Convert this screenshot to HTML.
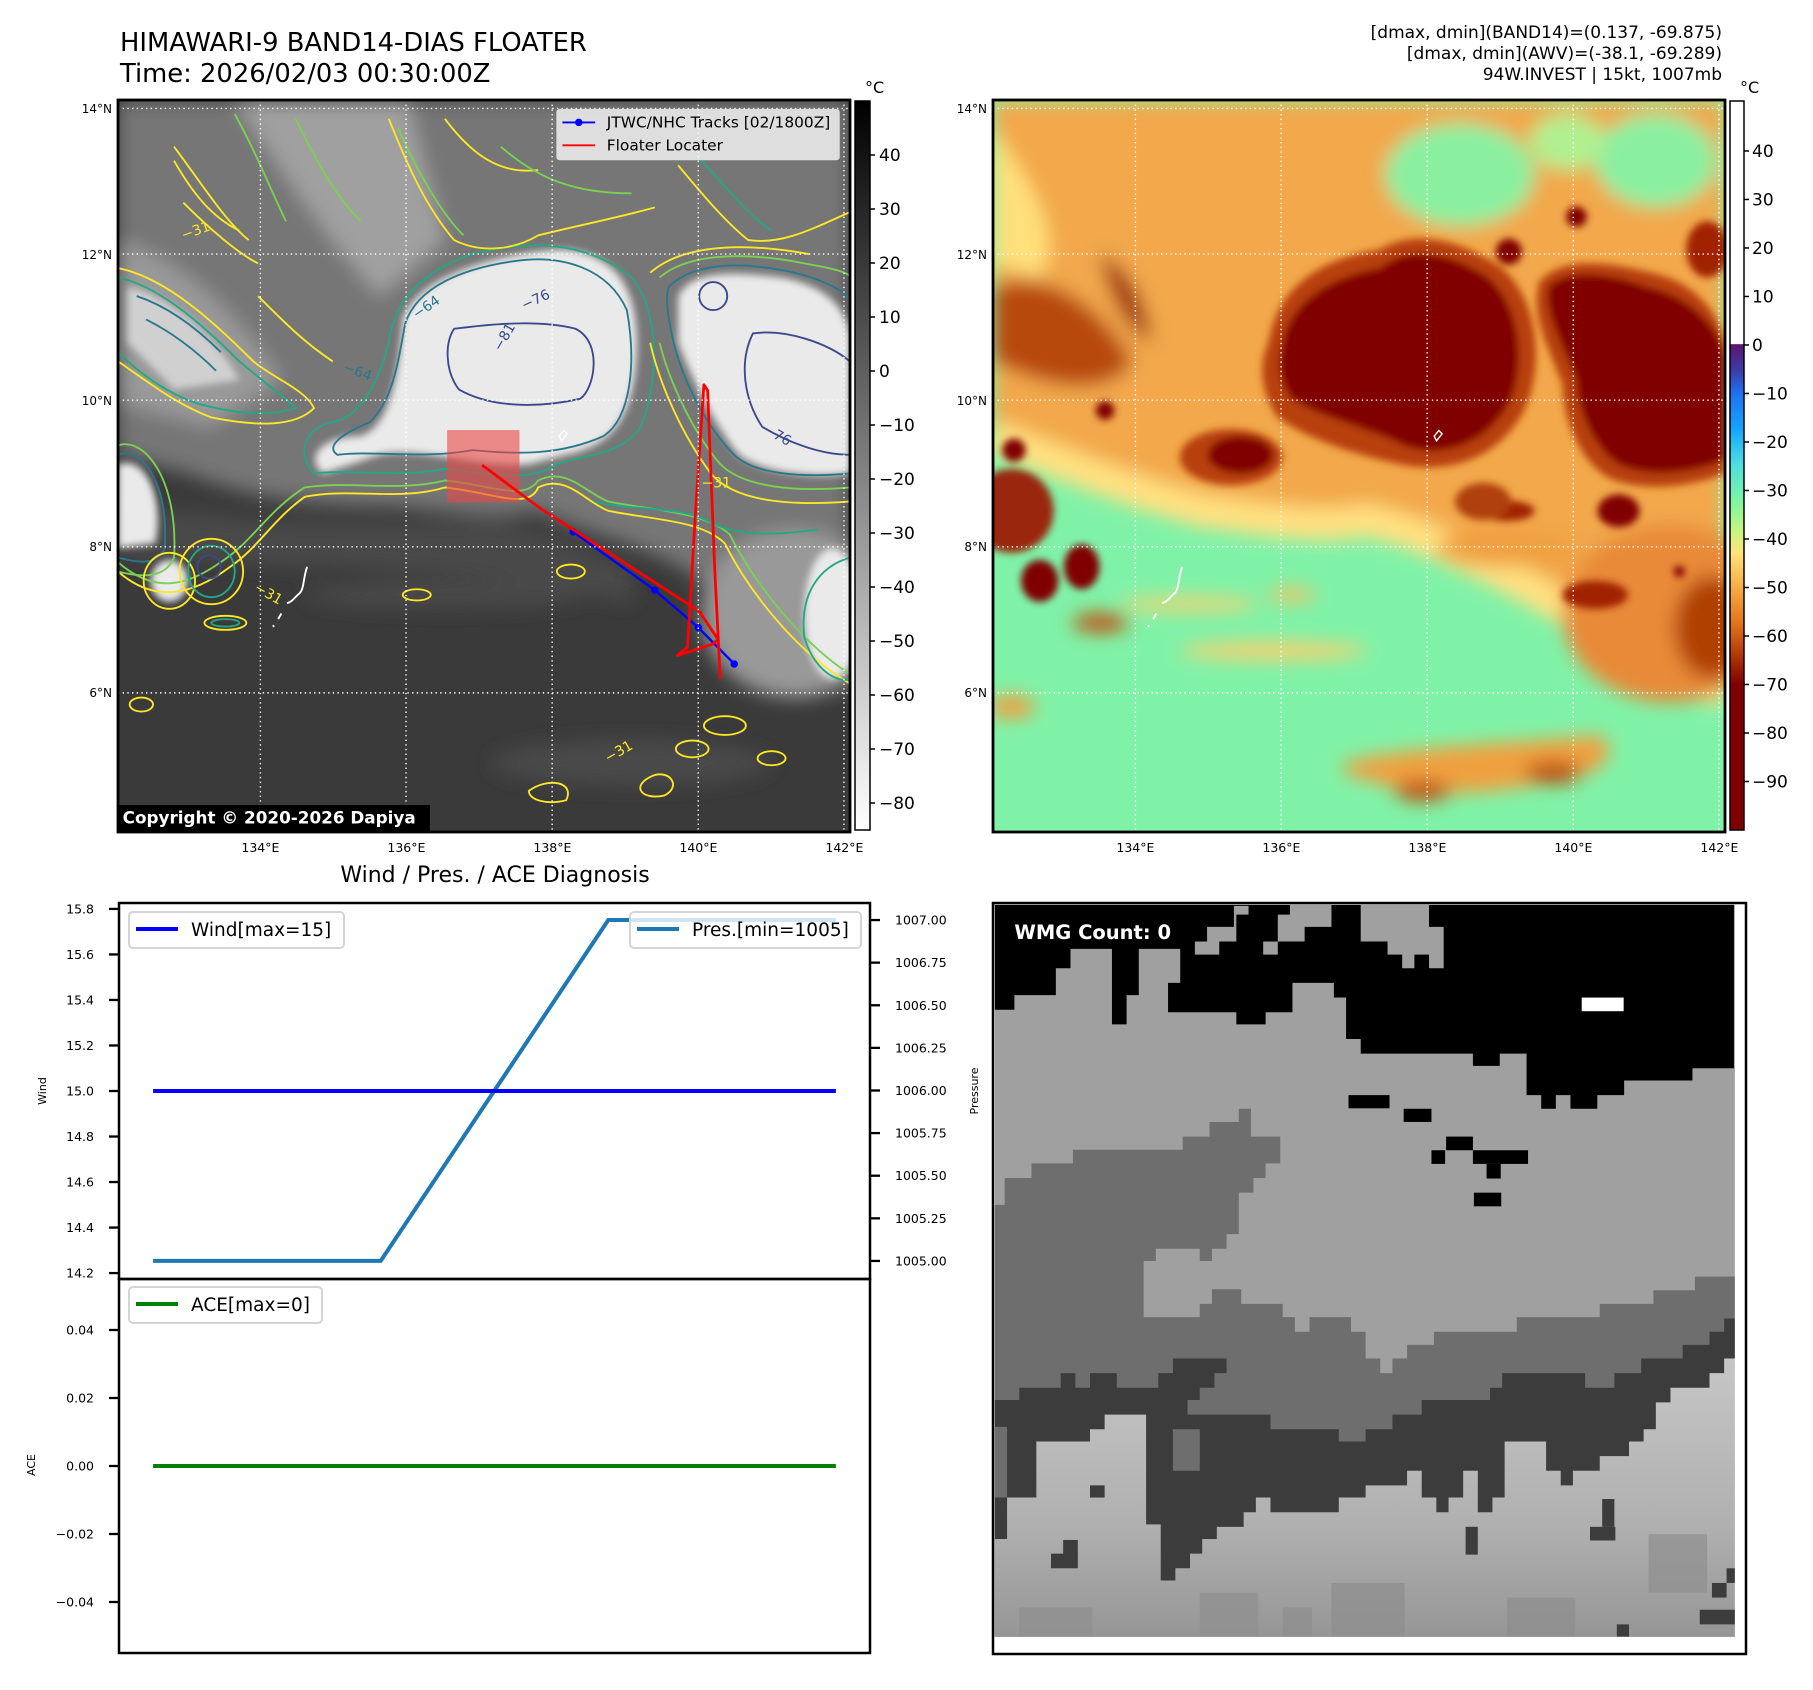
<!DOCTYPE html>
<html><head><meta charset="utf-8">
<style>
html,body{margin:0;padding:0;background:#fff;}
svg{display:block;font-family:"DejaVu Sans","Liberation Sans",sans-serif;}
</style></head>
<body>
<svg id="fig" xmlns="http://www.w3.org/2000/svg" width="1813" height="1690" viewBox="0 0 1813 1690">
<defs>
  <clipPath id="clipMap"><rect x="0" y="0" width="1568" height="1568"/></clipPath>
  <filter id="blur8" x="-20%" y="-20%" width="140%" height="140%"><feGaussianBlur stdDeviation="8"/></filter>
  <filter id="blur20" x="-30%" y="-30%" width="160%" height="160%"><feGaussianBlur stdDeviation="20"/></filter>
  <filter id="blur4"><feGaussianBlur stdDeviation="4"/></filter>
  <linearGradient id="cbGray" x1="0" y1="0" x2="0" y2="1">
    <stop offset="0" stop-color="#000"/><stop offset="1" stop-color="#fff"/>
  </linearGradient>
  <linearGradient id="cbColor" x1="0" y1="0" x2="0" y2="1">
    <stop offset="0" stop-color="#ffffff"/>
    <stop offset="0.333" stop-color="#ffffff"/>
    <stop offset="0.334" stop-color="#5b1670"/>
    <stop offset="0.37" stop-color="#3c3ca8"/>
    <stop offset="0.40" stop-color="#1f6ff0"/>
    <stop offset="0.45" stop-color="#12a6ff"/>
    <stop offset="0.50" stop-color="#4fe0e0"/>
    <stop offset="0.55" stop-color="#7ff5a0"/>
    <stop offset="0.59" stop-color="#c8f580"/>
    <stop offset="0.62" stop-color="#ffe47a"/>
    <stop offset="0.67" stop-color="#f8a840"/>
    <stop offset="0.72" stop-color="#e07018"/>
    <stop offset="0.76" stop-color="#b03806"/>
    <stop offset="0.80" stop-color="#800000"/>
    <stop offset="1" stop-color="#800000"/>
  </linearGradient>
  <linearGradient id="wmgBottom" x1="0" y1="0" x2="0" y2="1">
    <stop offset="0" stop-color="#c6c6c6"/><stop offset="0.6" stop-color="#b0b0b0"/><stop offset="1" stop-color="#969696"/>
  </linearGradient>
</defs>

<!-- Titles -->
<text x="120" y="51" font-size="25.8">HIMAWARI-9 BAND14-DIAS FLOATER</text>
<text x="120" y="82" font-size="25.8">Time: 2026/02/03 00:30:00Z</text>
<g font-size="17" text-anchor="end">
  <text x="1722" y="38">[dmax, dmin](BAND14)=(0.137, -69.875)</text>
  <text x="1722" y="59">[dmax, dmin](AWV)=(-38.1, -69.289)</text>
  <text x="1722" y="80">94W.INVEST | 15kt, 1007mb</text>
</g>

<!-- ===== MAP 1 (gray IR) ===== -->
<g transform="translate(118,100) scale(0.46684)">
 <g clip-path="url(#clipMap)">
  <rect width="1568" height="1568" fill="#3a3a3a"/>
  <g filter="url(#blur20)">
    <path d="M0,0 L1568,0 L1568,1260 C1450,1200 1320,1100 1220,1010 C1100,940 1000,930 900,880 C800,900 700,880 600,870 C450,870 300,860 150,800 L0,760 Z" fill="#767676"/>
    <path d="M0,300 C150,350 250,450 350,600 L200,700 L0,650 Z" fill="#999"/>
    <path d="M250,0 C350,150 450,300 560,420 L700,300 L620,0 Z" fill="#a0a0a0"/>
    <ellipse cx="1450" cy="1100" rx="200" ry="180" fill="#999"/>
    <path d="M0,860 C200,900 500,920 800,900 C900,920 1000,960 1100,1000 L1100,1080 C800,1000 400,1000 0,980Z" fill="#4a4a4a"/>
    <ellipse cx="1100" cy="1420" rx="300" ry="50" fill="#4a4a4a"/>
    <ellipse cx="700" cy="1060" rx="300" ry="30" fill="#4a4a4a"/>
  </g>
  <g filter="url(#blur8)" fill="#eaeaea">
    <path d="M610,470 C640,380 800,330 950,320 C1080,330 1120,420 1110,560 C1100,680 1060,740 960,760 L880,780 C780,790 640,740 560,760 L440,800 C400,770 430,720 520,720 C580,700 600,600 610,470Z"/>
    <path d="M1200,420 C1230,360 1330,370 1420,380 C1530,400 1568,460 1568,520 L1568,800 C1500,810 1380,800 1330,760 C1280,700 1230,600 1200,520Z"/>
    <path d="M0,780 C60,760 100,850 80,950 L0,960Z"/>
    <ellipse cx="110" cy="1030" rx="40" ry="45"/>
    <ellipse cx="1530" cy="1100" rx="60" ry="140"/>
    <path d="M20,400 C120,420 220,520 260,600 L120,620 L20,520Z" fill="#d0d0d0"/>
  </g>
  <!-- contours -->
  <g fill="none" stroke-width="4">
    <path d="M0,1010 C80,1080 160,1060 240,1000 C300,960 330,900 400,850 C500,830 600,860 700,830 C800,840 880,880 900,830 C960,800 1000,860 1050,880 C1150,900 1250,900 1300,950 C1350,1050 1450,1180 1568,1250" stroke="#fde725"/>
    <path d="M0,990 C80,1060 150,1040 220,990 C290,945 320,880 400,830 C500,815 600,840 700,815 C800,825 870,860 900,815 C960,785 1000,840 1050,860 C1150,880 1250,880 1310,930 C1360,1030 1460,1160 1568,1230" stroke="#7ad151"/>
    <path d="M420,800 C500,790 600,810 700,790 C800,800 880,820 940,780 C1000,760 1080,760 1120,700 C1160,600 1160,450 1100,380 C1000,300 880,300 760,330 C640,370 590,440 580,520 C560,600 520,680 460,690 C400,700 380,760 420,800Z" stroke="#22a884"/>
    <path d="M470,760 C550,750 650,770 760,750 C860,760 950,760 1040,720 C1100,680 1110,560 1090,450 C1050,360 950,330 850,345 C740,360 640,400 615,480 C600,560 590,640 540,690 C490,710 440,740 470,760Z" stroke="#2a788e"/>
    <path d="M720,490 C800,480 900,470 980,490 C1040,520 1020,620 990,640 C900,660 800,660 730,620 C700,580 700,520 720,490Z" stroke="#3b4a8b"/>
    <path d="M1360,500 C1430,490 1520,520 1568,560 L1568,760 C1500,760 1430,730 1380,700 C1340,640 1330,560 1360,500Z" stroke="#3b4a8b"/>
    <path d="M1180,400 C1240,340 1360,350 1450,370 C1530,390 1568,420 1568,430 M1568,800 C1460,810 1360,800 1320,760 C1260,700 1210,600 1190,520 C1180,470 1170,430 1180,400" stroke="#2a788e"/>
    <path d="M1160,380 C1230,320 1370,330 1470,350 C1530,360 1568,370 1568,380 M1568,830 C1450,840 1340,830 1290,780 C1230,710 1180,600 1160,520" stroke="#7ad151"/>
    <path d="M1140,370 C1220,300 1370,310 1480,330 M1568,860 C1440,870 1320,860 1270,800 C1210,720 1160,610 1140,520" stroke="#fde725"/>
    <ellipse cx="1275" cy="420" rx="30" ry="30" stroke="#3b4a8b"/>
    <path d="M0,360 C100,380 200,470 290,560 C340,600 400,620 420,660 C380,700 300,700 200,680 C120,650 60,600 0,560" stroke="#fde725"/>
    <path d="M0,380 C90,400 180,480 260,560 C320,610 360,640 380,660 C320,680 240,670 170,650 C110,630 50,590 0,540" stroke="#22a884"/>
    <path d="M0,760 C50,740 110,820 100,960 C80,1000 40,990 0,980" stroke="#2a788e"/>
    <path d="M0,740 C60,720 130,820 120,980 C100,1030 40,1020 0,1010" stroke="#7ad151"/>
    <ellipse cx="110" cy="1030" rx="55" ry="60" stroke="#fde725"/>
    <ellipse cx="200" cy="1010" rx="50" ry="55" stroke="#22a884"/>
    <ellipse cx="200" cy="1010" rx="68" ry="70" stroke="#fde725"/>
    <ellipse cx="195" cy="1000" rx="25" ry="25" stroke="#3b4a8b"/>
    <path d="M120,100 C180,180 230,260 280,300 M140,220 C200,280 260,330 300,350 M120,130 C160,200 200,250 260,280" stroke="#fde725"/>
    <path d="M250,30 C300,120 330,200 360,260 M380,40 C420,120 460,200 520,260" stroke="#7ad151"/>
    <path d="M580,40 C620,140 660,230 720,300 C780,330 850,320 900,290 C980,270 1080,250 1150,230 M700,40 C760,120 820,160 900,150" stroke="#fde725"/>
    <path d="M600,60 C640,150 690,240 740,290 M820,100 C900,170 980,200 1100,200" stroke="#7ad151"/>
    <path d="M1200,140 C1250,200 1300,260 1350,300 C1420,310 1480,280 1568,240" stroke="#fde725"/>
    <path d="M1240,120 C1300,180 1340,240 1400,280" stroke="#22a884"/>
    <path d="M40,420 C100,440 160,480 220,540 M60,470 C120,500 170,540 210,580" stroke="#2a788e"/>
    <path d="M300,420 C360,480 400,520 460,560" stroke="#fde725"/>
    <ellipse cx="1300" cy="1340" rx="45" ry="20" stroke="#fde725"/>
    <ellipse cx="1230" cy="1390" rx="35" ry="18" stroke="#fde725"/>
    <path d="M1140,1450 C1180,1430 1210,1470 1170,1490 C1120,1500 1100,1470 1140,1450Z" stroke="#fde725"/>
    <path d="M880,1480 C920,1450 980,1460 960,1500 C920,1510 880,1500 880,1480Z" stroke="#fde725"/>
    <ellipse cx="1400" cy="1410" rx="30" ry="15" stroke="#fde725"/>
    <ellipse cx="640" cy="1060" rx="30" ry="12" stroke="#fde725"/>
    <ellipse cx="230" cy="1120" rx="45" ry="15" stroke="#fde725"/>
    <ellipse cx="230" cy="1120" rx="30" ry="8" stroke="#22a884"/>
    <ellipse cx="50" cy="1295" rx="25" ry="15" stroke="#fde725"/>
    <ellipse cx="970" cy="1010" rx="30" ry="15" stroke="#fde725"/>
    <path d="M1020,860 C1100,880 1200,870 1260,900 C1330,940 1420,930 1500,920" stroke="#22a884"/>
    <path d="M1568,980 C1500,1000 1460,1060 1470,1150 C1490,1220 1540,1250 1568,1240" stroke="#22a884"/>
  </g>
  <!-- floater box & tracks -->
  <rect x="705" y="707" width="155" height="155" fill="rgba(235,70,70,0.6)"/>
  <path d="M975,925 L1150,1050 L1243,1130 L1320,1208" stroke="#0000ff" stroke-width="5" fill="none"/>
  <g fill="#0000ff"><circle cx="975" cy="925" r="8"/><circle cx="1150" cy="1050" r="8"/><circle cx="1243" cy="1130" r="8"/><circle cx="1320" cy="1208" r="8"/></g>
  <path d="M780,782 L905,875 L1245,1095 L1285,1155 L1275,1165 L1198,1190 L1220,1172 L1236,900 L1255,610 L1263,622 L1278,1000 L1290,1240" stroke="#ff0000" stroke-width="6" fill="none" stroke-linejoin="round"/>
  <!-- coastline -->
  <path d="M405,1000 C395,1030 400,1050 385,1060 C375,1070 372,1075 362,1078 M350,1100 L343,1112 M332,1125 l2,4" stroke="#fff" stroke-width="4" fill="none"/>
  <path d="M945,720 L955,708 L962,715 L950,730Z" stroke="#fff" stroke-width="3" fill="none"/>
  <!-- contour labels -->
  <g font-size="30" fill="#2a788e">
    <text x="640" y="470" transform="rotate(-35 640 470)">−64</text>
    <text x="870" y="450" fill="#3b4a8b" transform="rotate(-25 870 450)">−76</text>
    <text x="480" y="580" transform="rotate(20 480 580)">−64</text>
    <text x="820" y="540" fill="#3b4a8b" transform="rotate(-60 820 540)">−81</text>
    <text x="1380" y="710" fill="#3b4a8b" transform="rotate(30 1380 710)">−76</text>
    <text x="1250" y="830" fill="#fde725">−31</text>
    <text x="140" y="300" fill="#fde725" transform="rotate(-20 140 300)">−31</text>
    <text x="290" y="1050" fill="#fde725" transform="rotate(30 290 1050)">−31</text>
    <text x="1050" y="1420" fill="#fde725" transform="rotate(-30 1050 1420)">−31</text>
  </g>
  <!-- grid -->
  <g stroke="#fff" stroke-width="3" stroke-dasharray="3 7">
    <line x1="305" y1="0" x2="305" y2="1568"/><line x1="617" y1="0" x2="617" y2="1568"/><line x1="930" y1="0" x2="930" y2="1568"/><line x1="1243" y1="0" x2="1243" y2="1568"/><line x1="1555" y1="0" x2="1555" y2="1568"/>
    <line x1="0" y1="18" x2="1568" y2="18"/><line x1="0" y1="330" x2="1568" y2="330"/><line x1="0" y1="643" x2="1568" y2="643"/><line x1="0" y1="957" x2="1568" y2="957"/><line x1="0" y1="1270" x2="1568" y2="1270"/>
  </g>
  <!-- legend -->
  <g>
    <rect x="940" y="20" width="605" height="108" rx="6" fill="rgba(245,245,245,0.82)" stroke="#ddd" stroke-width="2"/>
    <line x1="952" y1="48" x2="1022" y2="48" stroke="#0000ff" stroke-width="4"/><circle cx="987" cy="48" r="8" fill="#0000ff"/>
    <line x1="952" y1="97" x2="1022" y2="97" stroke="#ff0000" stroke-width="4"/>
    <text x="1047" y="59" font-size="33">JTWC/NHC Tracks [02/1800Z]</text>
    <text x="1047" y="108" font-size="33">Floater Locater</text>
  </g>
  <rect x="0" y="1510" width="668" height="58" fill="#000"/>
  <text x="10" y="1550" font-size="36" font-weight="bold" fill="#fff">Copyright © 2020-2026 Dapiya</text>
 </g>
 <rect width="1568" height="1568" fill="none" stroke="#000" stroke-width="6"/>
</g>

<!-- colorbar 1 -->
<g>
  <rect x="855" y="101" width="15" height="729" fill="url(#cbGray)" stroke="#000" stroke-width="1.5"/>
  <text x="865" y="93" font-size="16">°C</text>
  <g id="cb1ticks" font-size="17"></g>
</g>

<!-- ===== MAP 2 (color) ===== -->
<g transform="translate(993,100) scale(0.46684)">
 <g clip-path="url(#clipMap)">
  <rect width="1568" height="1568" fill="#80f2a8"/>
  <g filter="url(#blur20)">
    <path d="M0,0 L1568,0 L1568,1250 C1450,1200 1300,1120 1200,1050 C1100,1000 1000,950 900,900 C800,880 700,910 600,880 C450,860 300,820 150,760 L0,700 Z" fill="#f2a84c"/>
    <path d="M0,720 C150,780 300,840 450,880 C600,900 700,920 800,900 C900,920 1000,970 1100,1020 C1200,1070 1300,1140 1450,1220 L1568,1270" fill="none" stroke="#ffe080" stroke-width="70"/>
    <ellipse cx="1000" cy="160" rx="160" ry="110" fill="#8af0a0"/>
    <ellipse cx="1420" cy="130" rx="130" ry="100" fill="#8af0a0"/>
    <ellipse cx="1230" cy="90" rx="80" ry="60" fill="#b0f090"/>
    <path d="M0,60 C100,200 150,300 100,380 L0,350Z" fill="#ffe07a"/>
    <path d="M0,400 C100,360 220,420 300,560 C250,640 120,620 0,560Z" fill="#b84810"/>
    <path d="M230,330 C290,360 330,430 340,520 C300,500 250,440 230,330Z" fill="#a03008"/>
    <ellipse cx="1450" cy="1100" rx="230" ry="190" fill="#e88a38"/>
    <ellipse cx="1540" cy="1130" rx="80" ry="110" fill="#b04000"/>
    <path d="M750,1420 C900,1380 1100,1380 1300,1360 C1350,1400 1300,1450 1200,1460 C1050,1490 900,1500 750,1440Z" fill="#f0a040"/>
    <ellipse cx="1200" cy="1440" rx="60" ry="25" fill="#c05010"/>
    <ellipse cx="920" cy="1480" rx="60" ry="22" fill="#c05010"/>
    <ellipse cx="40" cy="1300" rx="50" ry="25" fill="#f0a040"/>
    <ellipse cx="230" cy="1120" rx="60" ry="20" fill="#c05010"/>
    <ellipse cx="640" cy="1060" rx="50" ry="15" fill="#f8c060"/>
    <ellipse cx="420" cy="1080" rx="150" ry="15" fill="#f8d070"/>
    <ellipse cx="600" cy="1180" rx="200" ry="20" fill="#f8d070"/>
    <ellipse cx="1100" cy="960" rx="150" ry="40" fill="#f0a040"/>
  </g>
  <g filter="url(#blur8)">
    <path d="M590,520 C610,400 700,340 830,320 C910,270 1020,310 1090,360 C1170,430 1180,570 1140,660 C1080,780 960,800 870,780 C780,760 680,730 610,680 C570,620 570,560 590,520Z" fill="#b84008"/>
    <path d="M1170,390 C1220,330 1330,350 1410,370 C1510,390 1568,470 1568,540 L1568,800 C1490,830 1390,840 1320,810 C1250,770 1220,670 1220,610 C1190,530 1150,460 1170,390Z" fill="#b84008"/>
    <ellipse cx="510" cy="765" rx="110" ry="60" fill="#b84008"/>
    <path d="M620,520 C640,430 720,380 830,360 C900,300 1000,340 1060,380 C1130,440 1140,560 1110,640 C1060,740 960,770 880,740 C800,700 700,680 640,640 C610,600 610,560 620,520Z" fill="#800000"/>
    <path d="M1190,400 C1230,360 1320,370 1400,400 C1500,420 1568,500 1568,560 L1568,770 C1500,800 1400,810 1340,780 C1280,740 1250,650 1250,600 C1220,520 1180,460 1190,400Z" fill="#800000"/>
    <ellipse cx="530" cy="760" rx="70" ry="40" fill="#800000"/>
    <ellipse cx="100" cy="1030" rx="40" ry="45" fill="#800000"/>
    <ellipse cx="190" cy="1000" rx="38" ry="48" fill="#800000"/>
    <circle cx="240" cy="665" r="20" fill="#800000"/>
    <circle cx="45" cy="750" r="25" fill="#800000"/>
    <ellipse cx="40" cy="880" rx="90" ry="90" fill="#9a2808"/>
    <ellipse cx="1340" cy="880" rx="45" ry="35" fill="#800000"/>
    <ellipse cx="1100" cy="880" rx="60" ry="22" fill="#a02000"/>
    <ellipse cx="1050" cy="860" rx="60" ry="40" fill="#b04010"/>
    <circle cx="1105" cy="325" r="28" fill="#800000"/>
    <circle cx="1250" cy="250" r="22" fill="#800000"/>
    <ellipse cx="1530" cy="320" rx="45" ry="60" fill="#a02000"/>
    <ellipse cx="1290" cy="1060" rx="70" ry="30" fill="#a02000"/>
    <circle cx="1470" cy="1010" r="12" fill="#800000"/>
  </g>
  <path d="M405,1000 C395,1030 400,1050 385,1060 C375,1070 372,1075 362,1078 M350,1100 L343,1112 M332,1125 l2,4" stroke="#fff" stroke-width="4" fill="none"/>
  <path d="M945,720 L955,708 L962,715 L950,730Z" stroke="#fff" stroke-width="3" fill="none"/>
  <g stroke="#fff" stroke-width="3" stroke-dasharray="3 7">
    <line x1="305" y1="0" x2="305" y2="1568"/><line x1="617" y1="0" x2="617" y2="1568"/><line x1="930" y1="0" x2="930" y2="1568"/><line x1="1243" y1="0" x2="1243" y2="1568"/><line x1="1555" y1="0" x2="1555" y2="1568"/>
    <line x1="0" y1="18" x2="1568" y2="18"/><line x1="0" y1="330" x2="1568" y2="330"/><line x1="0" y1="643" x2="1568" y2="643"/><line x1="0" y1="957" x2="1568" y2="957"/><line x1="0" y1="1270" x2="1568" y2="1270"/>
  </g>
 </g>
 <rect width="1568" height="1568" fill="none" stroke="#000" stroke-width="6"/>
</g>

<!-- colorbar 2 -->
<g>
  <rect x="1730" y="101" width="14" height="729" fill="url(#cbColor)" stroke="#000" stroke-width="1.5"/>
  <text x="1740" y="93" font-size="16">°C</text>
  <g id="cb2ticks" font-size="17"></g>
</g>

<!-- map tick labels -->
<g id="mapTicks" font-size="12.5"></g>

<!-- ===== Bottom-left chart ===== -->
<text x="495" y="882" font-size="22" text-anchor="middle">Wind / Pres. / ACE Diagnosis</text>
<g id="diag"></g>

<!-- ===== WMG panel ===== -->
<g>
  <rect x="993" y="903" width="753" height="751" fill="#fff"/>
  <g transform="translate(990,900) scale(0.4878)">
    <rect x="10" y="10" width="1520" height="1500" fill="#a0a0a0"/>
    <path fill="#000" d="M10,10 L1525,10 L1525,345 L1440,345 L1440,370 L1300,370 L1300,400 L1245,400 L1245,428 L1190,428 L1190,400 L1160,400 L1160,428 L1130,428 L1130,400 L1100,400 L1100,315 L1045,315 L1045,340 L990,340 L990,315 L760,315 L760,285 L730,285 L730,200 L705,200 L705,170 L620,170 L620,230 L565,230 L565,255 L505,255 L505,230 L365,230 L365,170 L390,170 L390,100 L305,100 L305,195 L280,195 L280,255 L250,255 L250,100 L165,100 L165,140 L135,140 L135,195 L50,195 L50,225 L10,225 Z"/>
    <path fill="#a0a0a0" d="M590,85 L645,85 L645,55 L700,55 L700,10 L615,10 L615,30 L590,30 Z M560,85 L590,85 L590,112 L560,112 Z M760,10 L900,10 L900,55 L930,55 L930,140 L900,140 L900,112 L870,112 L870,140 L845,140 L845,112 L815,112 L815,85 L760,85 Z M420,112 L420,85 L445,85 L445,55 L500,55 L500,12 L530,12 L530,30 L505,30 L505,85 L470,85 L470,112Z"/>
    <rect x="1213" y="200" width="86" height="28" fill="#fff"/>
    <g fill="#000"><rect x="735" y="400" width="84" height="27"/><rect x="848" y="428" width="57" height="27"/><rect x="935" y="485" width="55" height="28"/><rect x="905" y="513" width="28" height="28"/><rect x="990" y="513" width="113" height="28"/><rect x="1018" y="541" width="29" height="30"/><rect x="992" y="600" width="56" height="28"/></g>
    <path fill="#6e6e6e" d="M10,625 L30,625 L30,570 L85,570 L85,540 L170,540 L170,512 L395,512 L395,485 L450,485 L450,455 L510,455 L510,428 L535,428 L535,485 L595,485 L595,540 L565,540 L565,570 L540,570 L540,600 L510,600 L510,685 L485,685 L485,715 L455,715 L455,740 L430,740 L430,715 L340,715 L340,740 L315,740 L315,855 L430,855 L430,828 L455,828 L455,798 L515,798 L515,828 L600,828 L600,855 L625,855 L625,885 L655,885 L655,855 L740,855 L740,885 L770,885 L770,940 L800,940 L800,970 L825,970 L825,940 L855,940 L855,912 L910,912 L910,885 L1080,885 L1080,855 L1250,855 L1250,828 L1360,828 L1360,800 L1445,800 L1445,772 L1530,772 L1530,1510 L10,1510 Z"/>
    <path fill="#3c3c3c" d="M10,1025 L60,1025 L60,1000 L145,1000 L145,970 L175,970 L175,1000 L205,1000 L205,970 L260,970 L260,1000 L345,1000 L345,970 L375,970 L375,940 L485,940 L485,970 L460,970 L460,1000 L430,1000 L430,1025 L405,1025 L405,1055 L575,1055 L575,1085 L715,1085 L715,1110 L770,1110 L770,1085 L825,1085 L825,1055 L885,1055 L885,1025 L1025,1025 L1025,1000 L1050,1000 L1050,970 L1220,970 L1220,1000 L1280,1000 L1280,970 L1335,970 L1335,940 L1420,940 L1420,912 L1475,912 L1475,885 L1505,885 L1505,858 L1530,858 L1530,1510 L10,1510 Z"/>
    <path fill="#6e6e6e" d="M10,1080 L35,1080 L35,1225 L10,1225Z M375,1085 L430,1085 L430,1170 L375,1170Z"/>
    <path fill="url(#wmgBottom)" d="M10,1310 L35,1310 L35,1225 L95,1225 L95,1110 L205,1110 L205,1085 L235,1085 L235,1055 L320,1055 L320,1280 L350,1280 L350,1395 L380,1395 L380,1370 L410,1370 L410,1340 L435,1340 L435,1310 L465,1310 L465,1285 L520,1285 L520,1255 L545,1255 L545,1225 L575,1225 L575,1255 L715,1255 L715,1225 L770,1225 L770,1200 L855,1200 L855,1170 L885,1170 L885,1225 L915,1225 L915,1255 L940,1255 L940,1225 L970,1225 L970,1170 L1000,1170 L1000,1255 L1030,1255 L1030,1225 L1055,1225 L1055,1110 L1140,1110 L1140,1170 L1170,1170 L1170,1200 L1195,1200 L1195,1170 L1250,1170 L1250,1140 L1310,1140 L1310,1110 L1340,1110 L1340,1085 L1365,1085 L1365,1030 L1395,1030 L1395,1000 L1475,1000 L1475,970 L1505,970 L1505,940 L1535,940 L1535,1510 L10,1510 Z"/>
    <g fill="#8e8e8e" opacity="0.7"><rect x="600" y="1450" width="60" height="60"/><rect x="430" y="1420" width="120" height="90"/><rect x="700" y="1400" width="150" height="110"/><rect x="1350" y="1300" width="120" height="120"/><rect x="1060" y="1430" width="140" height="80"/><rect x="60" y="1450" width="150" height="60"/></g>
    <g fill="#3c3c3c"><rect x="975" y="1285" width="25" height="57"/><rect x="1230" y="1285" width="52" height="28"/><rect x="1255" y="1228" width="25" height="57"/><rect x="125" y="1340" width="55" height="30"/><rect x="150" y="1312" width="30" height="30"/><rect x="205" y="1200" width="30" height="25"/><rect x="1480" y="1400" width="30" height="30"/><rect x="1455" y="1455" width="80" height="30"/><rect x="1285" y="1485" width="25" height="25"/><rect x="1510" y="1370" width="25" height="30"/></g>
    <rect x="1527" y="10" width="30" height="1540" fill="#fff"/>
    <rect x="10" y="1512" width="1540" height="38" fill="#fff"/>
    <rect x="35" y="35" width="370" height="65" rx="10" fill="#000"/>
    <text x="50" y="80" font-size="40" font-weight="bold" fill="#fff">WMG Count: 0</text>
  </g>
  <rect x="993" y="903" width="753" height="751" fill="none" stroke="#000" stroke-width="2.5"/>
</g>

<script>
// ----- Diagnosis chart data -----
const times = [0, 1, 2, 3];
const windValues = [15, 15, 15, 15];
const presValues = [1005, 1005, 1007, 1007];
const aceValues = [0, 0, 0, 0];
const windTicks = [14.2, 14.4, 14.6, 14.8, 15.0, 15.2, 15.4, 15.6, 15.8];
const presTicks = [1005.00, 1005.25, 1005.50, 1005.75, 1006.00, 1006.25, 1006.50, 1006.75, 1007.00];
const aceTicks = [-0.04, -0.02, 0.00, 0.02, 0.04];
const cb1Ticks = [40, 30, 20, 10, 0, -10, -20, -30, -40, -50, -60, -70, -80];
const cb2Ticks = [40, 30, 20, 10, 0, -10, -20, -30, -40, -50, -60, -70, -80, -90];
const latTicks = [14, 12, 10, 8, 6];
const lonTicks = [134, 136, 138, 140, 142];

const NS = 'http://www.w3.org/2000/svg';
function mk(tag, attrs, parent, txt) {
  const e = document.createElementNS(NS, tag);
  for (const k in attrs) e.setAttribute(k, attrs[k]);
  if (txt !== undefined) e.textContent = txt;
  parent.appendChild(e);
  return e;
}
const diag = document.getElementById('diag');
const L = 119, R = 870, WT = 903, WB = 1279, AB = 1653;
const tMin = Math.min(...times), tMax = Math.max(...times), tPad = (tMax - tMin) * 0.05;
const xS = t => L + (t - (tMin - tPad)) / ((tMax + tPad) - (tMin - tPad)) * (R - L);
const windY = v => WB - (v - 14.174) / (15.826 - 14.174) * (WB - WT);
const presY = v => WB - (v - 1004.894) / (1007.1 - 1004.894) * (WB - WT);
const aceY = v => AB - (v - (-0.055)) / (0.110) * (AB - WB);

function polyPts(xs, ys, fy) { return xs.map((t, i) => xS(t).toFixed(1) + ',' + fy(ys[i]).toFixed(1)).join(' '); }

const wf = mk('rect', {x: L, y: WT, width: R - L, height: WB - WT, fill: 'none', stroke: '#000', 'stroke-width': 2.5}, diag);


const af = mk('rect', {x: L, y: WB, width: R - L, height: AB - WB, fill: 'none', stroke: '#000', 'stroke-width': 2.5}, diag);



windTicks.forEach(v => {
  const y = windY(v);
  mk('line', {x1: L - 10, y1: y, x2: L, y2: y, stroke: '#000', 'stroke-width': 2.3}, diag);
  const t = mk('text', {x: L - 25, y: y + 4.5, 'font-size': 12.5, 'text-anchor': 'end'}, diag, v.toFixed(1));
  
  
});
presTicks.forEach(v => {
  const y = presY(v);
  mk('line', {x1: R, y1: y, x2: R + 10, y2: y, stroke: '#000', 'stroke-width': 2.3}, diag);
  const t = mk('text', {x: 895, y: y + 4.5, 'font-size': 12.5}, diag, v.toFixed(2));
  
  
});
aceTicks.forEach(v => {
  const y = aceY(v);
  mk('line', {x1: L - 10, y1: y, x2: L, y2: y, stroke: '#000', 'stroke-width': 2.3}, diag);
  const t = mk('text', {x: L - 25, y: y + 4.5, 'font-size': 12.5, 'text-anchor': 'end'}, diag, (v < 0 ? '\u2212' : '') + Math.abs(v).toFixed(2));
  
  
});
const yl1 = mk('text', {x: 0, y: 0, 'font-size': 11, 'text-anchor': 'middle', transform: 'translate(46,1091) rotate(-90)'}, diag, 'Wind');


const yl2 = mk('text', {x: 0, y: 0, 'font-size': 11, 'text-anchor': 'middle', transform: 'translate(978,1091) rotate(-90)'}, diag, 'Pressure');


const yl3 = mk('text', {x: 0, y: 0, 'font-size': 11, 'text-anchor': 'middle', transform: 'translate(35,1465) rotate(-90)'}, diag, 'ACE');



const pl = mk('polyline', {points: polyPts(times, presValues, presY), fill: 'none', stroke: '#1f77b4', 'stroke-width': 4}, diag);


const wl = mk('polyline', {points: polyPts(times, windValues, windY), fill: 'none', stroke: '#0000ff', 'stroke-width': 4}, diag);


const al = mk('polyline', {points: polyPts(times, aceValues, aceY), fill: 'none', stroke: '#008000', 'stroke-width': 4}, diag);



function legend(name, x, y, w, color, label) {
  const g = mk('g', {}, diag);
  
  
  mk('rect', {x: x, y: y, width: w, height: 36, rx: 4, fill: 'rgba(255,255,255,0.8)', stroke: '#d4d4d4', 'stroke-width': 2}, g);
  mk('line', {x1: x + 7, y1: y + 17, x2: x + 49, y2: y + 17, stroke: color, 'stroke-width': 4}, g);
  mk('text', {x: x + 62, y: y + 24, 'font-size': 18.5}, g, label);
}
legend('wind-legend', 129, 912, 215, '#0000ff', 'Wind[max=' + Math.max(...windValues) + ']');
legend('pressure-legend', 630, 912, 231, '#1f77b4', 'Pres.[min=' + Math.min(...presValues) + ']');
legend('ace-legend', 129, 1287, 193, '#008000', 'ACE[max=' + Math.max(...aceValues) + ']');

const cb1 = document.getElementById('cb1ticks');
const cb1Y = v => 101 + (50 - v) / 135 * 729;
cb1Ticks.forEach(v => {
  const y = cb1Y(v);
  mk('line', {x1: 870, y1: y, x2: 875, y2: y, stroke: '#000', 'stroke-width': 1.5}, cb1);
  const t = mk('text', {x: 879, y: y + 6}, cb1, (v < 0 ? '\u2212' : '') + Math.abs(v));
  
  
});
const cb2 = document.getElementById('cb2ticks');
const cb2Y = v => 101 + (50.3 - v) / 150.3 * 729;
cb2Ticks.forEach(v => {
  const y = cb2Y(v);
  mk('line', {x1: 1744, y1: y, x2: 1749, y2: y, stroke: '#000', 'stroke-width': 1.5}, cb2);
  const t = mk('text', {x: 1752, y: y + 6}, cb2, (v < 0 ? '\u2212' : '') + Math.abs(v));
  
  
});

const mt = document.getElementById('mapTicks');
const latY = lat => 108.4 + (14 - lat) * 73.0;
const lonX = lon => 260.4 + (lon - 134) * 73.0;
[0, 875].forEach(off => {
  latTicks.forEach(lat => {
    const t = mk('text', {x: 112 + off, y: latY(lat) + 4.5, 'text-anchor': 'end', 'font-size': 12}, mt, lat + '°N');
    
    
  });
  lonTicks.forEach(lon => {
    const t = mk('text', {x: lonX(lon) + off, y: 852, 'text-anchor': 'middle', 'font-size': 12.5}, mt, lon + '°E');
    
    
  });
});
</script>
</svg>
</body></html>
